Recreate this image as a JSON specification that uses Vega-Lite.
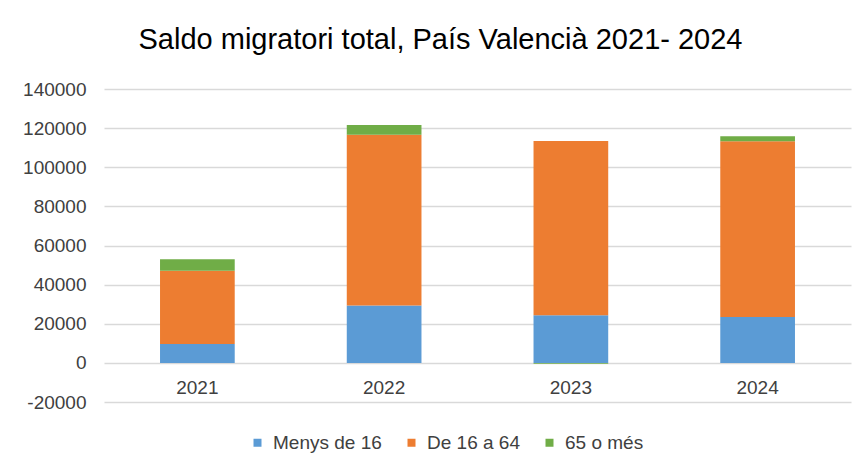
{
  "$schema": "https://vega.github.io/schema/vega-lite/v6.json",
  "width": 747,
  "height": 313,
  "autosize": {"type": "none"},
  "padding": {"left": 104, "top": 89, "right": 12, "bottom": 64},
  "background": "white",
  "title": {
    "text": "Saldo migratori total, País Valencià 2021- 2024",
    "font": "Liberation Sans",
    "fontSize": 29,
    "fontWeight": "normal",
    "color": "#000000",
    "anchor": "middle",
    "dx": -37,
    "offset": 25
  },
  "data": {
    "values": [
      {"any": "2021", "grup": "Menys de 16", "valor": 9700},
      {"any": "2021", "grup": "De 16 a 64", "valor": 37450},
      {"any": "2021", "grup": "65 o més", "valor": 5800},
      {"any": "2022", "grup": "Menys de 16", "valor": 29300},
      {"any": "2022", "grup": "De 16 a 64", "valor": 87350},
      {"any": "2022", "grup": "65 o més", "valor": 4950},
      {"any": "2023", "grup": "Menys de 16", "valor": 24300},
      {"any": "2023", "grup": "De 16 a 64", "valor": 89150},
      {"any": "2023", "grup": "65 o més", "valor": -400},
      {"any": "2024", "grup": "Menys de 16", "valor": 23500},
      {"any": "2024", "grup": "De 16 a 64", "valor": 89750},
      {"any": "2024", "grup": "65 o més", "valor": 2550}
    ]
  },
  "mark": {"type": "bar"},
  "encoding": {
    "x": {
      "field": "any",
      "type": "nominal",
      "scale": {"paddingInner": 0.6, "paddingOuter": 0.3},
      "axis": {
        "title": null,
        "labelAngle": 0,
        "domain": false,
        "ticks": false,
        "tickSize": 0,
        "offset": -39,
        "labelPadding": 15,
        "labelFont": "Liberation Sans",
        "labelFontSize": 19,
        "labelColor": "#404040",
        "labelBaseline": "top"
      }
    },
    "y": {
      "field": "valor",
      "type": "quantitative",
      "stack": "zero",
      "scale": {"domain": [-20000, 140000], "nice": false, "zero": false},
      "axis": {
        "title": null,
        "values": [-20000, 0, 20000, 40000, 60000, 80000, 100000, 120000, 140000],
        "labelExpr": "toString(datum.value)",
        "domain": false,
        "ticks": false,
        "tickSize": 0,
        "labelPadding": 18,
        "labelFont": "Liberation Sans",
        "labelFontSize": 19,
        "labelColor": "#404040",
        "gridColor": "#d9d9d9",
        "gridWidth": 1.5
      }
    },
    "color": {
      "field": "grup",
      "type": "nominal",
      "sort": ["Menys de 16", "De 16 a 64", "65 o més"],
      "scale": {
        "domain": ["Menys de 16", "De 16 a 64", "65 o més"],
        "range": ["#5B9BD5", "#ED7D31", "#70AD47"]
      },
      "legend": {
        "title": null,
        "orient": "none",
        "direction": "horizontal",
        "legendX": 144,
        "legendY": 344,
        "symbolType": "square",
        "symbolSize": 64,
        "symbolStrokeWidth": 0,
        "labelFont": "Liberation Sans",
        "labelFontSize": 19,
        "labelColor": "#404040",
        "labelOffset": 6,
        "columnPadding": 20
      }
    },
    "order": {"field": "grup", "sort": "descending"}
  },
  "config": {
    "view": {"stroke": null}
  }
}
